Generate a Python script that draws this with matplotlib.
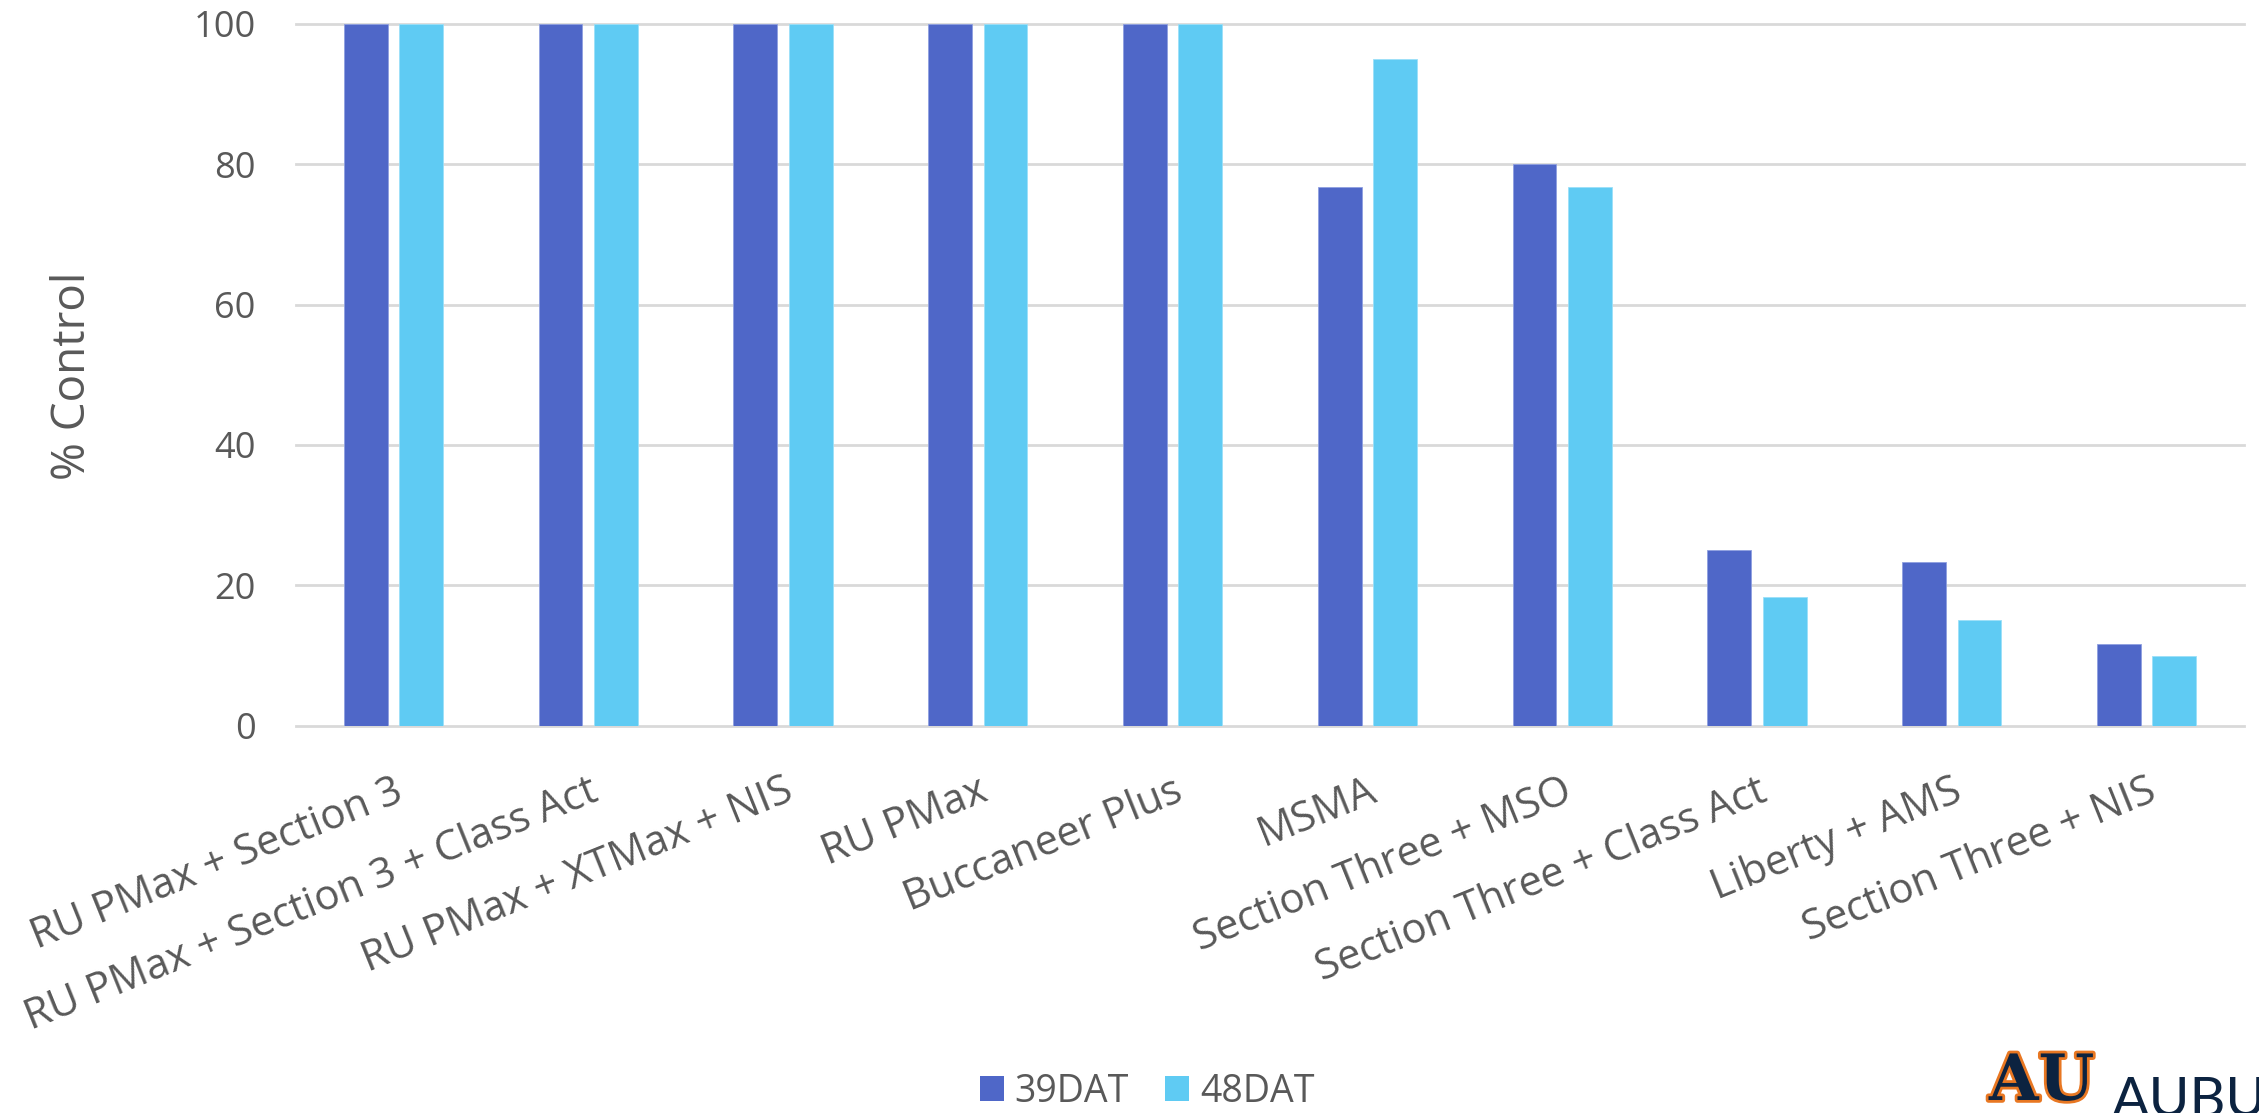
import matplotlib
matplotlib.use("Agg")
import matplotlib.pyplot as plt
import matplotlib.patheffects as path_effects
from matplotlib.patches import Patch
import numpy as np

# data
categories = [
    "RU PMax + Section 3",
    "RU PMax + Section 3 + Class Act",
    "RU PMax + XTMax + NIS",
    "RU PMax",
    "Buccaneer Plus",
    "MSMA",
    "Section Three + MSO",
    "Section Three + Class Act",
    "Liberty + AMS",
    "Section Three + NIS",
]
dat39 = [100, 100, 100, 100, 100, 76.7, 80.0, 25.0, 23.3, 11.7]
dat48 = [100, 100, 100, 100, 100, 95.0, 76.7, 18.3, 15.0, 10.0]
series_names = ["39DAT", "48DAT"]
yticks = [0, 20, 40, 60, 80, 100]

c39 = "#4F67C8"
c48 = "#5FCBF3"
txt = "#595959"
grid_c = "#D9D9D9"

plt.rcParams["font.family"] = ["Open Sans", "DejaVu Sans"]

W, H = 2259, 1113
fig = plt.figure(figsize=(W / 100, H / 100), dpi=100, facecolor="white")
ax = fig.add_axes([296 / W, 1 - 725.7 / H, (2244 - 296) / W, (725.7 - 23.7) / H])

x = np.arange(len(categories))
bw = 0.225
off = 0.142
ax.bar(x - off, dat39, width=bw, color=c39, edgecolor="#8FA0E0", linewidth=0.6, zorder=3)
ax.bar(x + off, dat48, width=bw, color=c48, edgecolor="#9BE0F8", linewidth=0.6, zorder=3)

ax.set_xlim(-0.5, len(categories) - 0.5)
ax.set_ylim(0, 100)
ax.set_yticks(yticks)
ax.set_yticklabels([str(v) for v in yticks])
ax.grid(axis="y", color=grid_c, linewidth=2.0, zorder=0)
ax.set_axisbelow(True)
for gl in ax.get_ygridlines():
    gl.set_clip_on(False)
for s in ax.spines.values():
    s.set_visible(False)

ax.tick_params(axis="y", length=0, pad=29, labelsize=26, labelcolor=txt)
ax.tick_params(axis="x", length=0, pad=32, labelsize=30, labelcolor=txt)
ax.set_xticks(x)
ax.set_xticklabels(categories, rotation=22, ha="right", va="top",
                   rotation_mode="anchor")

fig.text(73 / W, 1 - 375.5 / H, "% Control", rotation=90, ha="center",
         va="center", fontsize=33, color=txt)

handles = [Patch(facecolor=c39, edgecolor="none"), Patch(facecolor=c48, edgecolor="none")]
leg = fig.legend(handles, series_names, loc="center", bbox_to_anchor=(1147 / W, 1 - 1092 / H),
                 ncol=2, frameon=False, fontsize=27, handlelength=0.64, handleheight=0.64,
                 handletextpad=0.3, columnspacing=0.95, borderpad=0)
for t in leg.get_texts():
    t.set_color(txt)

# logo, cut off at the figure edge like in the original slide
au = fig.text(1989 / W, 1 - 1113 / H, "AU", ha="left", va="bottom", fontsize=46,
              fontweight="heavy", family="DejaVu Serif", color="#0C2340")
au.set_path_effects([path_effects.Stroke(linewidth=4, foreground="#E87722"),
                     path_effects.Normal()])
fig.text(2112 / W, 1 - 1117 / H, "AUBURN", ha="left", va="baseline", fontsize=40,
         family="Lato", color="#0C2340")

fig.savefig("out.png", dpi=100, facecolor="white")
plt.close(fig)
